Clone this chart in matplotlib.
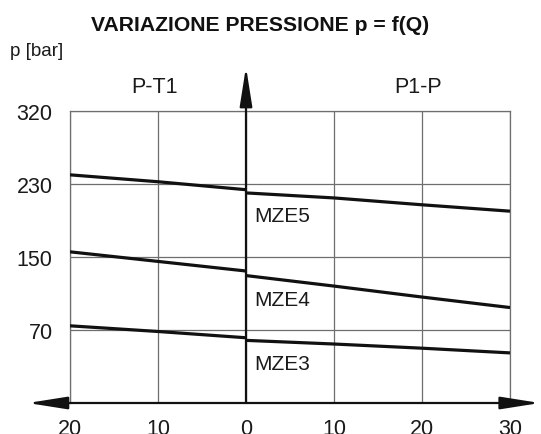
import numpy as np
import matplotlib
matplotlib.use('Agg')
import matplotlib.pyplot as plt
from matplotlib import font_manager

plt.rcParams['font.family'] = ['Liberation Sans', 'DejaVu Sans']
names = {f.name for f in font_manager.fontManager.ttflist}
narrow = 'Liberation Sans Narrow' if 'Liberation Sans Narrow' in names else 'Liberation Sans'

# flow Q [l/min]: negative = P-T1 side, positive = P1-P side
q_left = [-20, -10, 0]
q_right = [0, 10, 20, 30]

# pressure p [bar]
mze5_left = [241, 232.5, 223.5]
mze5_right = [220, 214.5, 207, 200]
mze4_left = [155.5, 145, 134.5]
mze4_right = [129.5, 118, 106, 94.5]
mze3_left = [74.5, 68.5, 62.5]
mze3_right = [60, 56.5, 52.5, 48]

curve_names = ['MZE5', 'MZE4', 'MZE3']
label_p = [198, 105, 40]

xticks = [-20, -10, 0, 10, 20, 30]
xtick_labels = ['20', '10', '0', '10', '20', '30']
yticks = [70, 150, 230, 320]

# the y grid is drawn evenly spaced even though the values are not
y_breaks = [0, 70, 150, 230, 320]
y_pos = [0, 1, 2, 3, 4]


def fwd(v):
    return np.interp(v, y_breaks, y_pos)


def inv(v):
    return np.interp(v, y_pos, y_breaks)


fig = plt.figure(figsize=(5.41, 4.35), dpi=100)
ax = fig.add_axes([70 / 541, 31 / 435, 440 / 541, 292.3 / 435])
ax.set_yscale('function', functions=(fwd, inv))
ax.set_xlim(-20, 30)
ax.set_ylim(0, 320)

ax.set_xticks(xticks)
ax.set_xticklabels(xtick_labels, fontfamily=narrow)
ax.set_yticks(yticks)
ax.set_yticklabels([str(v) for v in yticks], fontfamily=narrow, va='center_baseline')
ax.tick_params(length=0, labelsize=15.5, labelcolor='#1a1a1a')
ax.tick_params(axis='x', pad=11)
ax.tick_params(axis='y', pad=12.5)
ax.grid(True, color='#6e6e6e', lw=0.9)
for s in ['left', 'right', 'top']:
    ax.spines[s].set_color('#6e6e6e')
    ax.spines[s].set_linewidth(0.9)
ax.spines['bottom'].set_visible(False)

lw = 2.3
for ql, qr, pl, pr in [(q_left, q_right, mze5_left, mze5_right),
                       (q_left, q_right, mze4_left, mze4_right),
                       (q_left, q_right, mze3_left, mze3_right)]:
    ax.plot(ql, pl, color='#111111', lw=lw, solid_capstyle='butt', zorder=3)
    ax.plot(qr, pr, color='#111111', lw=lw, solid_capstyle='butt', zorder=3)

for name, p in zip(curve_names, label_p):
    ax.text(0.95, p, name, fontsize=15, fontfamily=narrow, color='#1a1a1a',
            va='center_baseline', ha='left')

# axes with arrows
tr = ax.get_xaxis_transform()
arrow = dict(arrowstyle='-|>,head_length=2.4,head_width=0.38', color='#111111',
             lw=1.6, shrinkA=0, shrinkB=0, mutation_scale=10)
ax.annotate('', xy=(-24.8, 0), xytext=(0, 0), xycoords=tr, textcoords=tr,
            arrowprops=arrow, annotation_clip=False)
ax.annotate('', xy=(33.4, 0), xytext=(0, 0), xycoords=tr, textcoords=tr,
            arrowprops=arrow, annotation_clip=False)
ax.annotate('', xy=(0, 1.15), xytext=(0, 0), xycoords=tr, textcoords=tr,
            arrowprops=arrow, annotation_clip=False)

ax.text(-10.45, (404 - 92.7) / 292.3, 'P-T1', transform=tr, fontsize=15.5,
        fontfamily=narrow, color='#1a1a1a', ha='center', va='baseline')
ax.text(19.6, (404 - 92.7) / 292.3, 'P1-P', transform=tr, fontsize=15.5,
        fontfamily=narrow, color='#1a1a1a', ha='center', va='baseline')

fig.text(10 / 541, 1 - 55.5 / 435, 'p [bar]', fontsize=13.5, color='#1a1a1a',
         ha='left', va='baseline')
fig.text(260.5 / 541, 1 - 31 / 435, 'VARIAZIONE PRESSIONE p = f(Q)', fontsize=15.2,
         fontweight='bold', color='#111111', ha='center', va='baseline')

fig.savefig('out.png', dpi=100)
